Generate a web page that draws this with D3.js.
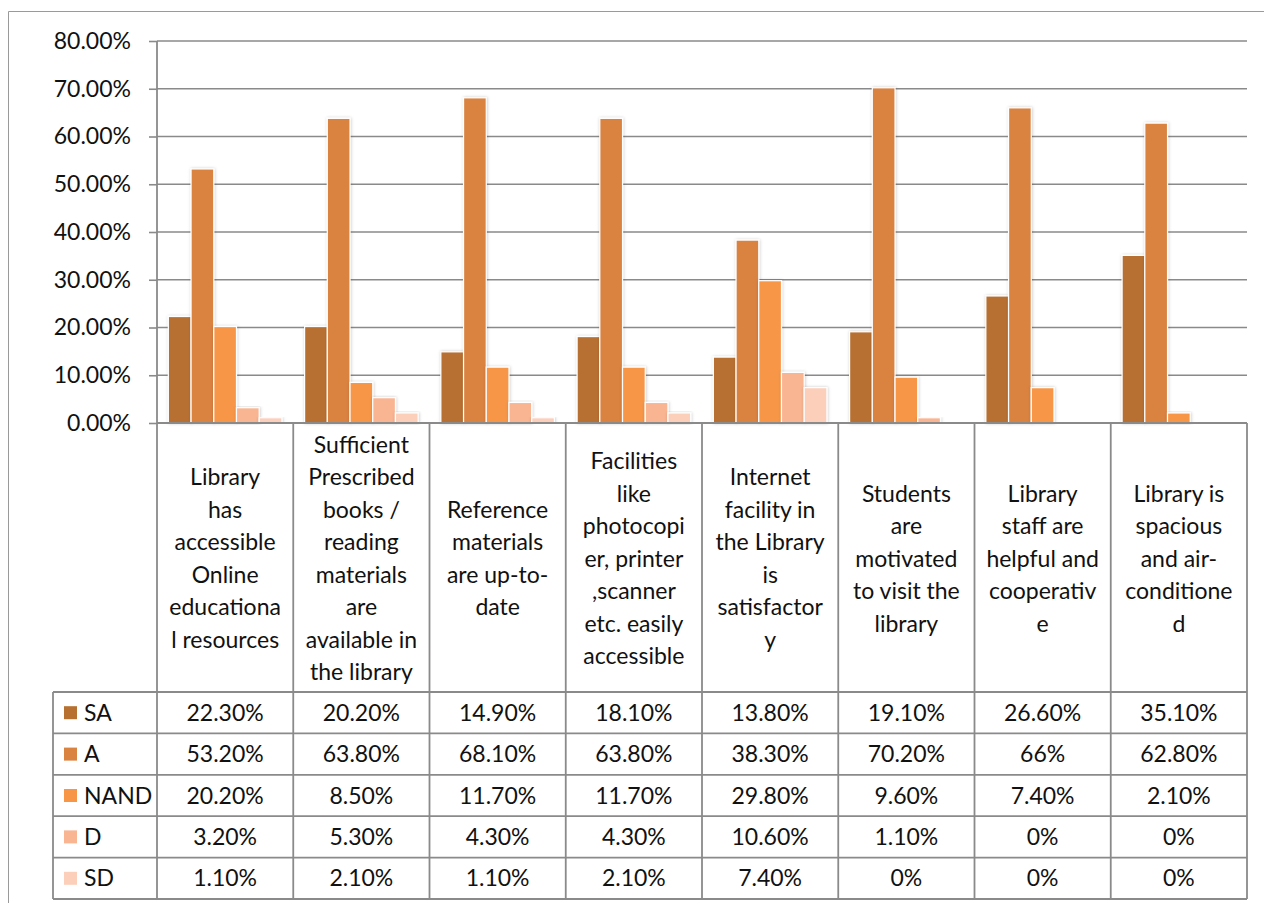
<!DOCTYPE html>
<html>
<head>
<meta charset="utf-8">
<script src="https://cdn.jsdelivr.net/npm/d3@7"></script>
<style>
  html, body { margin: 0; padding: 0; background: #fff; }
  svg { display: block; }
  text { font-family: Lato, "Open Sans", sans-serif; fill: #111; }
</style>
</head>
<body>
<svg id="chart" width="1264" height="903"></svg>
<script>
// ---- data ----
const categoryLines = [
  ["Library", "has", "accessible", "Online", "educationa", "l resources"],
  ["Sufficient", "Prescribed", "books /", "reading", "materials", "are", "available in", "the library"],
  ["Reference", "materials", "are up-to-", "date"],
  ["Facilities", "like", "photocopi", "er, printer", ",scanner", "etc. easily", "accessible"],
  ["Internet", "facility in", "the Library", "is", "satisfactor", "y"],
  ["Students", "are", "motivated", "to visit the", "library"],
  ["Library", "staff are", "helpful and", "cooperativ", "e"],
  ["Library is", "spacious", "and air-", "conditione", "d"]
];
const seriesNames = ["SA", "A", "NAND", "D", "SD"];
const SA   = [22.3, 20.2, 14.9, 18.1, 13.8, 19.1, 26.6, 35.1];
const A    = [53.2, 63.8, 68.1, 63.8, 38.3, 70.2, 66.0, 62.8];
const NAND = [20.2, 8.5, 11.7, 11.7, 29.8, 9.6, 7.4, 2.1];
const D    = [3.2, 5.3, 4.3, 4.3, 10.6, 1.1, 0, 0];
const SD   = [1.1, 2.1, 1.1, 2.1, 7.4, 0, 0, 0];
const seriesValues = [SA, A, NAND, D, SD];
const yTicks = [0, 10, 20, 30, 40, 50, 60, 70, 80];
const colors = ["#B87030", "#DA8240", "#F79646", "#F9B492", "#FBCFBA"];

// ---- layout ----
const svg = d3.select("#chart");
const plotLeft = 157, plotRight = 1247, plotTop = 41, plotBottom = 423;
const labelBottom = 692, tableBottom = 899, legendLeft = 53;
const gridColor = "#8a8a8a";
const lineH = 32.5;

const defs = svg.append("defs");
const f = defs.append("filter").attr("id", "shadow")
  .attr("x", "-30%").attr("y", "-10%").attr("width", "160%").attr("height", "120%");
f.append("feDropShadow").attr("dx", 0.5).attr("dy", 0).attr("stdDeviation", 1.4)
  .attr("flood-color", "#000").attr("flood-opacity", 0.22);

// outer border
svg.append("path").attr("d", `M8.5,903 V11.5 H1264`)
  .attr("fill", "none").attr("stroke", "#9a9a9a").attr("stroke-width", 1);

const x = d3.scaleBand().domain(d3.range(categoryLines.length)).range([plotLeft, plotRight]).padding(0);
const xs = d3.scaleBand().domain(d3.range(seriesNames.length)).range([0, x.bandwidth()])
  .paddingInner(0).paddingOuter(0.5);
const y = d3.scaleLinear().domain([0, 80]).range([plotBottom, plotTop]);

// gridlines
svg.append("g").selectAll("line").data(yTicks.filter(d => d > 0)).join("line")
  .attr("x1", plotLeft).attr("x2", plotRight)
  .attr("y1", d => y(d)).attr("y2", d => y(d))
  .attr("stroke", gridColor).attr("stroke-width", 1.6);

// y axis
const yAxis = svg.append("g").attr("transform", `translate(${plotLeft},0)`)
  .call(d3.axisLeft(y).tickValues(yTicks).tickSize(8).tickPadding(18)
    .tickFormat(d => d.toFixed(2) + "%"));
yAxis.select(".domain").remove();
yAxis.selectAll(".tick line").attr("stroke", gridColor).attr("stroke-width", 1.6);
yAxis.selectAll(".tick text").style("font-family", "Lato, 'Open Sans', sans-serif")
  .style("font-size", "23px").attr("fill", "#111");

// bars
const barData = [];
seriesValues.forEach((vals, s) => vals.forEach((v, c) => barData.push({ s, c, v })));
svg.append("g").selectAll("rect").data(barData.filter(d => d.v > 0)).join("rect")
  .attr("x", d => x(d.c) + xs(d.s))
  .attr("width", xs.bandwidth())
  .attr("y", d => y(d.v))
  .attr("height", d => y(0) - y(d.v))
  .attr("fill", d => colors[d.s])
  .attr("stroke", "#fff").attr("stroke-width", 1.2)
  .attr("filter", "url(#shadow)");

// table lines
const tg = svg.append("g").attr("stroke", gridColor).attr("stroke-width", 1.8).attr("fill", "none");
// axis baseline / top of label area
tg.append("line").attr("x1", plotLeft).attr("x2", plotRight).attr("y1", plotBottom).attr("y2", plotBottom);
// verticals for category cells
const bounds = d3.range(categoryLines.length + 1).map(i => i < categoryLines.length ? x(i) : plotRight);
tg.selectAll(".v").data(bounds).join("line")
  .attr("x1", d => d).attr("x2", d => d).attr("y1", plotTop).attr("y2", tableBottom)
  .attr("y1", (d, i) => i === 0 ? plotTop : plotBottom);
// row lines
const rowY = d3.scaleBand().domain(d3.range(seriesNames.length)).range([labelBottom, tableBottom]);
const rowEdges = d3.range(seriesNames.length + 1).map(i => labelBottom + i * rowY.step());
tg.selectAll(".h").data(rowEdges).join("line")
  .attr("x1", legendLeft).attr("x2", plotRight).attr("y1", d => d).attr("y2", d => d);
tg.append("line").attr("x1", legendLeft).attr("x2", legendLeft).attr("y1", labelBottom).attr("y2", tableBottom);

// category labels
const labelMid = (plotBottom + labelBottom) / 2 + 1;
const lg = svg.append("g").style("font-size", "23px").attr("text-anchor", "middle");
categoryLines.forEach((lines, c) => {
  const cx = x(c) + x.bandwidth() / 2;
  lg.append("g").selectAll("text").data(lines).join("text")
    .attr("x", cx)
    .attr("y", (d, i) => labelMid + (i - (lines.length - 1) / 2) * lineH)
    .attr("dy", "0.35em")
    .text(d => d);
});

// table values + legend
const fmt = v => (v % 1 === 0 ? v.toFixed(0) : v.toFixed(2)) + "%";
const rg = svg.append("g").style("font-size", "23px");
seriesNames.forEach((name, s) => {
  const cy = rowY(s) + rowY.bandwidth() / 2;
  rg.append("rect").attr("x", 64).attr("y", cy - 6.5).attr("width", 13).attr("height", 13)
    .attr("fill", colors[s]);
  rg.append("text").attr("x", 84).attr("y", cy).attr("dy", "0.35em").text(name);
  rg.append("g").selectAll("text").data(seriesValues[s]).join("text")
    .attr("x", (d, c) => x(c) + x.bandwidth() / 2)
    .attr("y", cy).attr("dy", "0.35em").attr("text-anchor", "middle")
    .text(d => fmt(d));
});
</script>
</body>
</html>
